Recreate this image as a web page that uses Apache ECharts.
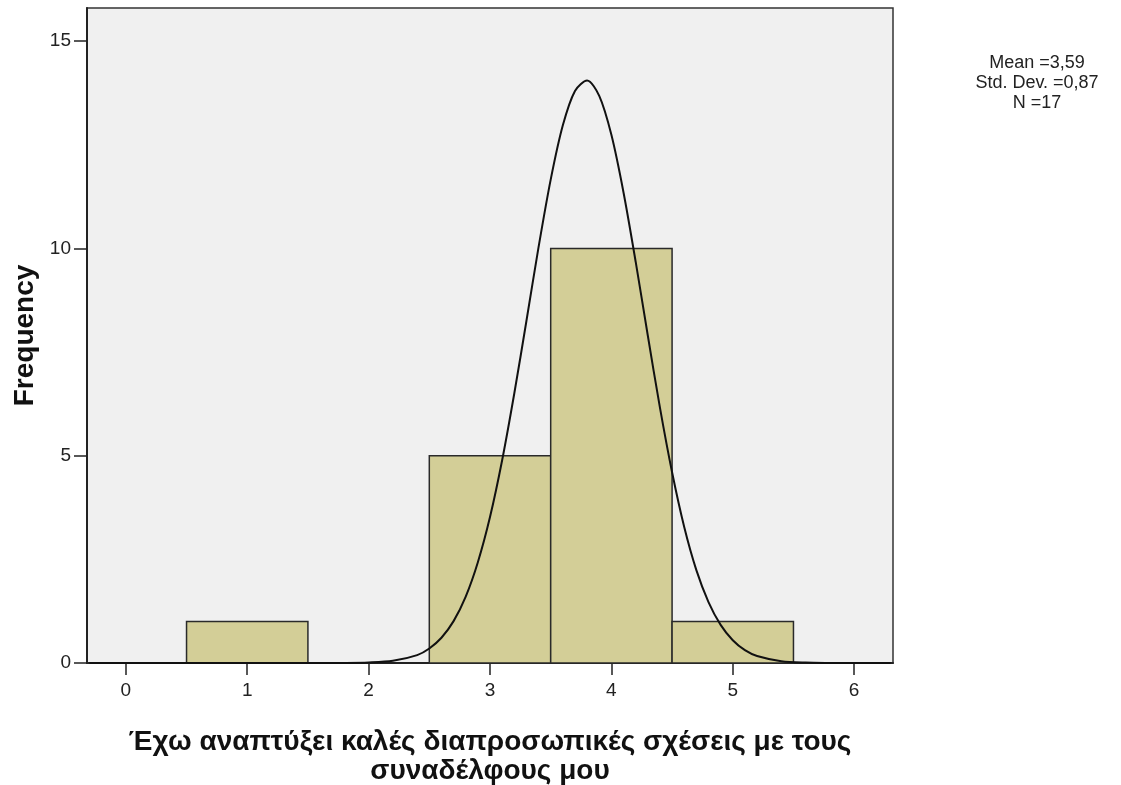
<!DOCTYPE html>
<html>
<head>
<meta charset="utf-8">
<script src="https://cdn.jsdelivr.net/npm/echarts@6/dist/echarts.min.js"></script>
<style>
  html, body { margin: 0; padding: 0; background: #fff; }
  #chart { width: 1121px; height: 785px; }
</style>
</head>
<body>
<div id="chart"></div>
<script>
// histogram bins (center of bin, frequency)
const binCenters = [1, 3, 4, 5];
const binCounts = [1, 5, 10, 1];

// normal curve
const curveX = [-0.3, 0, 0.5, 1, 1.5, 1.8, 2.0, 2.2, 2.4, 2.5, 2.6, 2.7, 2.8, 2.9, 3.0, 3.1, 3.2, 3.3, 3.4, 3.5, 3.6, 3.7, 3.8, 3.9, 4.0, 4.1, 4.2, 4.3, 4.4, 4.5, 4.6, 4.7, 4.8, 4.9, 5.0, 5.1, 5.2, 5.4, 5.6, 5.8, 6.0, 6.3];
const curveY = [0, 0, 0, 0, 0, 0.002, 0.012, 0.052, 0.19, 0.35, 0.61, 1.01, 1.60, 2.43, 3.52, 4.89, 6.50, 8.25, 10.03, 11.66, 12.97, 13.80, 14.05, 13.68, 12.74, 11.35, 9.68, 7.90, 6.16, 4.60, 3.28, 2.24, 1.47, 0.92, 0.55, 0.31, 0.17, 0.045, 0.01, 0.002, 0, 0];

const xTicks = [0, 1, 2, 3, 4, 5, 6];
const statLines = ['Mean =3,59', 'Std. Dev. =0,87', 'N =17'];

const xTitle = 'Έχω αναπτύξει καλές διαπροσωπικές σχέσεις με τους\nσυναδέλφους μου';

const FONT = '"Liberation Sans", Arial, sans-serif';

let chart = echarts.init(document.getElementById('chart'));

let barData = binCenters.map((c, i) => [c, binCounts[i]]);
let lineData = curveX.map((x, i) => [x, curveY[i]]);

let option = {
    backgroundColor: '#ffffff',
    animation: false,
    textStyle: { fontFamily: FONT },
    grid: {
        left: 87, right: 228, top: 8, bottom: 122,
        outerBoundsMode: 'none',
        containLabel: false,
        show: true,
        backgroundColor: '#f0f0f0',
        borderColor: '#333',
        borderWidth: 1.5
    },
    xAxis: {
        type: 'value',
        min: -0.32,
        max: 6.32,
        splitLine: { show: false },
        axisLine: { show: true, onZero: false, lineStyle: { color: '#222', width: 2 } },
        axisTick: { show: true, customValues: xTicks, length: 12, lineStyle: { color: '#222', width: 1.5 } },
        axisLabel: { customValues: xTicks, color: '#222', fontSize: 19, margin: 18, fontFamily: FONT },
        name: xTitle,
        nameLocation: 'middle',
        nameGap: 65,
        nameTextStyle: { color: '#111', fontSize: 28, fontWeight: 'bold', lineHeight: 29, fontFamily: FONT }
    },
    yAxis: {
        type: 'value',
        min: 0,
        max: 15.8,
        interval: 5,
        splitLine: { show: false },
        axisLine: { show: true, onZero: false, lineStyle: { color: '#222', width: 2 } },
        axisTick: { show: true, length: 13, lineStyle: { color: '#222', width: 1.5 } },
        axisLabel: { color: '#222', fontSize: 19, margin: 16, showMaxLabel: false, fontFamily: FONT },
        name: 'Frequency',
        nameLocation: 'middle',
        nameGap: 46,
        nameTextStyle: { color: '#111', fontSize: 28, fontWeight: 'bold', fontFamily: FONT }
    },
    graphic: [{
        type: 'text',
        x: 1037,
        y: 53,
        style: {
            text: statLines.join('\n'),
            align: 'center',
            fill: '#222',
            fontSize: 18,
            lineHeight: 20,
            fontFamily: FONT
        }
    }],
    series: [
        {
            type: 'custom',
            data: barData,
            renderItem: function (params, api) {
                let c = api.value(0);
                let v = api.value(1);
                let p0 = api.coord([c - 0.5, v]);
                let p1 = api.coord([c + 0.5, 0]);
                return {
                    type: 'rect',
                    shape: { x: p0[0], y: p0[1], width: p1[0] - p0[0], height: p1[1] - p0[1] },
                    style: { fill: '#d3ce97', stroke: '#2a2a2a', lineWidth: 1.5 }
                };
            },
            z: 2
        },
        {
            type: 'line',
            data: lineData,
            smooth: 0.3,
            symbol: 'none',
            lineStyle: { color: '#111', width: 2 },
            z: 3
        }
    ]
};
chart.setOption(option);
</script>
</body>
</html>
